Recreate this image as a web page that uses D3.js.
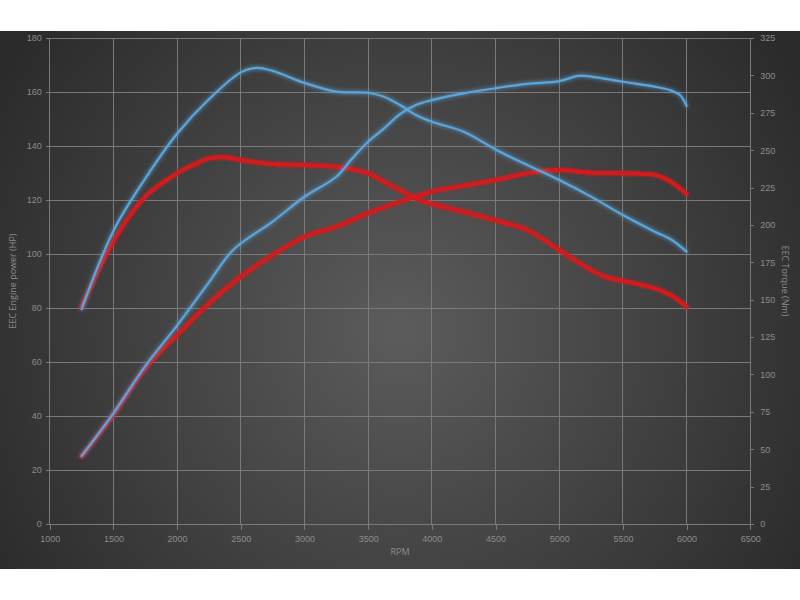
<!DOCTYPE html>
<html><head><meta charset="utf-8">
<script src="https://cdn.jsdelivr.net/npm/d3@7"></script>
<style>html,body{margin:0;padding:0;background:#fff;}svg{display:block;font-family:"Open Sans","DejaVu Sans",sans-serif;}</style>
</head><body>
<svg id="c" width="800" height="600"></svg>
<script>
const xTicks = [1000,1500,2000,2500,3000,3500,4000,4500,5000,5500,6000,6500];
const hpTicks = [0,20,40,60,80,100,120,140,160,180];
const nmTicks = [0,25,50,75,100,125,150,175,200,225,250,275,300,325];

const bluePowerRpm = [1250,1500,1750,2000,2250,2440,2750,3000,3250,3375,3500,3625,3750,3875,4000,4250,4500,4750,5000,5150,5250,5500,5750,5875,5950,6000];
const bluePowerHp  = [25.2,41,58.5,73.5,89.5,101.5,112,121.2,128.6,135.4,141.6,146.5,151.8,155.2,157,159.5,161.4,163,164,166,165.7,163.8,162,160.6,158.8,154.8];

const blueTorqueRpm = [1250,1500,1750,2000,2250,2500,2625,2750,3000,3250,3500,3625,3750,3875,4000,4250,4500,4750,5000,5250,5500,5750,5875,6000];
const blueTorqueNm  = [143.6,196,231,261,284,302,305,303,295,289.1,288.4,285.7,280.2,273.5,269,262.3,250.5,240,230,218.9,206.6,195.5,190.4,182.1];

const redPowerRpm = [1250,1500,1750,2000,2250,2500,2750,3000,3250,3500,3750,4000,4250,4500,4750,5000,5250,5500,5750,5875,6000];
const redPowerHp  = [25,40.5,57.7,70,81.7,91.6,99.6,106.4,110.1,115.1,119.4,123.1,125.3,127.4,129.9,131.1,130.1,129.9,129.3,126.8,122.2];

const redTorqueRpm = [1250,1500,1750,2000,2125,2250,2375,2500,2750,3000,3250,3500,3625,3750,3875,4000,4250,4500,4750,5000,5250,5375,5500,5750,5875,6000];
const redTorqueNm  = [145,189,218.9,234.5,240,244.5,245.2,243.4,240.7,240,238.9,234.5,228.9,223.4,217.8,214,208.8,203,196.6,183.2,169.9,165,162.7,157.6,153.1,145.3];

const svg = d3.select("#c");
const defs = svg.append("defs");
const rg = defs.append("radialGradient").attr("id","bg").attr("gradientUnits","userSpaceOnUse")
  .attr("cx",400).attr("cy",330).attr("r",480);
rg.append("stop").attr("offset","0%").attr("stop-color","#5c5c5c");
rg.append("stop").attr("offset","100%").attr("stop-color","#2a2a2a");

function glow(id, std){
  const f = defs.append("filter").attr("id",id).attr("x","-10%").attr("y","-10%").attr("width","120%").attr("height","120%");
  f.append("feGaussianBlur").attr("in","SourceGraphic").attr("stdDeviation",std).attr("result","b");
  const m = f.append("feMerge");
  m.append("feMergeNode").attr("in","b");
  m.append("feMergeNode").attr("in","SourceGraphic");
}
glow("gb",2.2); glow("gr",1.6);

svg.append("rect").attr("x",0).attr("y",31).attr("width",800).attr("height",538).attr("fill","url(#bg)");

const x = d3.scaleLinear().domain([1000,6500]).range([49.7,750.3]);
const yL = d3.scaleLinear().domain([0,180]).range([524,38]);
const yR = d3.scaleLinear().domain([0,325]).range([524,38]);

const gridCol = "#7a7a7a", txt = "#8c8c8c";
svg.append("g").selectAll("line").data(xTicks).join("line")
  .attr("x1",d=>x(d)).attr("x2",d=>x(d)).attr("y1",yL(180)).attr("y2",yL(0))
  .attr("stroke",gridCol).attr("stroke-width",1).attr("shape-rendering","crispEdges");
svg.append("g").selectAll("line").data(hpTicks).join("line")
  .attr("x1",x(1000)).attr("x2",x(6500)).attr("y1",d=>yL(d)).attr("y2",d=>yL(d))
  .attr("stroke",gridCol).attr("stroke-width",1).attr("shape-rendering","crispEdges");

function styleAxis(g){
  g.select(".domain").remove();
  g.selectAll(".tick line").attr("stroke",gridCol).attr("shape-rendering","crispEdges");
  g.selectAll(".tick text").attr("fill",txt).attr("font-size","9px");
}
svg.append("g").attr("transform",`translate(0,${yL(0)})`)
  .call(d3.axisBottom(x).tickValues(xTicks).tickSize(6).tickPadding(6).tickFormat(d3.format("d")))
  .call(styleAxis);
svg.append("g").attr("transform",`translate(${x(1000)},0)`)
  .call(d3.axisLeft(yL).tickValues(hpTicks).tickSize(4).tickPadding(4).tickFormat(d3.format("d")))
  .call(styleAxis);
svg.append("g").attr("transform",`translate(${x(6500)},0)`)
  .call(d3.axisRight(yR).tickValues(nmTicks).tickSize(4).tickPadding(6).tickFormat(d3.format("d")))
  .call(styleAxis);

svg.append("text").attr("x",400).attr("y",555).attr("text-anchor","middle").attr("fill",txt).attr("font-size","9px").text("RPM");
svg.append("text").attr("transform",`translate(16,281) rotate(-90)`).attr("text-anchor","middle").attr("fill",txt).attr("font-size","9px").text("EEC Engine power (HP)");
svg.append("text").attr("transform",`translate(782,281) rotate(90)`).attr("text-anchor","middle").attr("fill",txt).attr("font-size","9px").text("EEC Torque (Nm)");

function series(rpm, vals, scale, color, width, filt){
  const pts = rpm.map((r,i)=>[r, vals[i]]);
  const line = d3.line().x(d=>x(d[0])).y(d=>scale(d[1])).curve(d3.curveCatmullRom.alpha(0.5));
  svg.append("path").datum(pts).attr("d",line).attr("fill","none")
    .attr("stroke",color).attr("stroke-width",width).attr("stroke-linecap","round").attr("stroke-linejoin","round")
    .attr("filter",`url(#${filt})`);
}
series(redTorqueRpm, redTorqueNm, yR, "#d01a1f", 4, "gr");
series(redPowerRpm, redPowerHp, yL, "#d01a1f", 4, "gr");
series(blueTorqueRpm, blueTorqueNm, yR, "#5aa6dc", 2.2, "gb");
series(bluePowerRpm, bluePowerHp, yL, "#5aa6dc", 2.2, "gb");
</script>
</body></html>
